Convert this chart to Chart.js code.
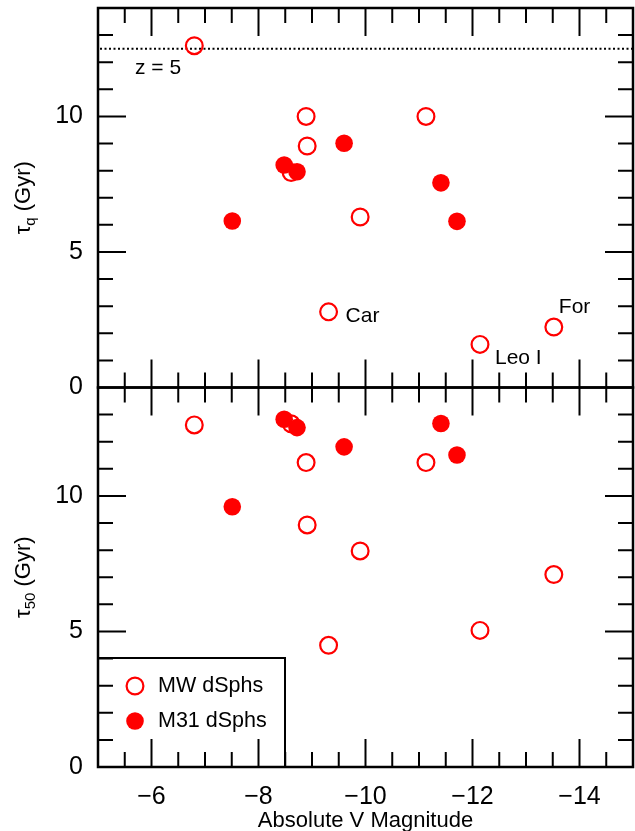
<!DOCTYPE html>
<html>
<head>
<meta charset="utf-8">
<title>dSph quenching times</title>
<script src="https://cdn.jsdelivr.net/npm/chart.js@4.4.1/dist/chart.umd.min.js"></script>
<style>
  html, body { margin: 0; padding: 0; background: #fff; }
  #myChart { display: block; }
</style>
</head>
<body>
<canvas id="myChart" width="635" height="831"></canvas>
<script>
'use strict';
// values
let mwMag=[-6.80,-8.89,-8.91,-8.61,-9.90,-11.13,-9.31,-12.14,-13.52];
let mwTauQ=[12.61,10.00,8.91,7.93,6.29,10.00,2.79,1.59,2.23];
let mwTau50=[12.62,11.23,8.93,12.66,7.97,11.23,4.49,5.04,7.10];
let mwNames=['','','','','','','Car','Leo I','For'];
let m31Mag=[-7.51,-8.48,-8.72,-9.60,-11.41,-11.71];
let m31TauQ=[6.14,8.21,7.96,9.01,7.55,6.13];
let m31Tau50=[9.60,12.83,12.52,11.81,12.67,11.51];
let zFiveAge=12.5;
let magRange=[-15,-5];
let tauRange=[0,14];
let magTicks=[-6,-8,-10,-12,-14];
let tauTicks=[0,5,10];

let fontFamily="'Liberation Sans', Arial, Helvetica, sans-serif";
Chart.defaults.font.family=fontFamily;
Chart.defaults.color='#000';

function toPoints(xs, ys){
  let pts=[];
  for(let i=0; i<xs.length; i++){
    pts.push({x: xs[i], y: ys[i]});
  }
  return pts;
}
function minusSign(v){
  return v<0 ? '\u2212'+(-v) : ''+v;
}
function noPadding(s){
  s.paddingTop=0;
  s.paddingBottom=0;
  s.paddingLeft=0;
  s.paddingRight=0;
}

let mwStyle={pointStyle:'circle', pointRadius:8.4, borderWidth:2.2, borderColor:'#ff0000', backgroundColor:'rgba(0,0,0,0)', order:2};
let m31Style={pointStyle:'circle', pointRadius:8.8, borderWidth:0, borderColor:'#ff0000', backgroundColor:'#ff0000', order:1};

// inward ticks + frame for both panels, legend box, labels
let framePlugin={
  id:'frame',
  afterDraw(chart){
    let ctx=chart.ctx;
    let x=chart.scales.x;
    let area=chart.chartArea;
    let panels=[chart.scales.yq, chart.scales.y50];
    ctx.save();
    ctx.strokeStyle='#000';
    panels.forEach(function(p){
      ctx.lineWidth=2;
      for(let v=-5.5; v>-15; v-=0.5){
        let px=x.getPixelForValue(v);
        let len=(v%2===0) ? 28 : 15;
        ctx.beginPath();
        ctx.moveTo(px, p.top); ctx.lineTo(px, p.top+len);
        ctx.moveTo(px, p.bottom); ctx.lineTo(px, p.bottom-len);
        ctx.stroke();
      }
      for(let v=1; v<14; v++){
        let py=p.getPixelForValue(v);
        let len=(v%5===0) ? 28 : 15;
        ctx.beginPath();
        ctx.moveTo(area.left, py); ctx.lineTo(area.left+len, py);
        ctx.moveTo(area.right, py); ctx.lineTo(area.right-len, py);
        ctx.stroke();
      }
      ctx.lineWidth=2.5;
      ctx.strokeRect(area.left, p.top, area.right-area.left, p.bottom-p.top);
    });

    // y titles with subscripts
    drawYTitle(ctx, chart.scales.yq, 'q');
    drawYTitle(ctx, chart.scales.y50, '50');

    // z = 5 label
    let yq=chart.scales.yq;
    ctx.fillStyle='#000';
    ctx.font='21px '+fontFamily;
    ctx.textAlign='left';
    ctx.textBaseline='middle';
    ctx.fillText('z = 5', area.left+37, yq.getPixelForValue(zFiveAge)+20);

    // galaxy names beside their points
    let offsets={'Car':[17,4], 'Leo I':[15,14], 'For':[5,-20]};
    let meta=chart.getDatasetMeta(0);
    mwNames.forEach(function(name, i){
      if(!name) return;
      let pt=meta.data[i];
      ctx.fillText(name, pt.x+offsets[name][0], pt.y+offsets[name][1]);
    });

    // legend box in the lower panel
    let lb=area.bottom, ll=area.left;
    ctx.lineWidth=2;
    ctx.strokeRect(ll, lb-109, 187, 109);
    ctx.beginPath();
    ctx.lineWidth=2.2;
    ctx.strokeStyle='#ff0000';
    ctx.arc(ll+37, lb-81, 8.4, 0, Math.PI*2);
    ctx.stroke();
    ctx.beginPath();
    ctx.fillStyle='#ff0000';
    ctx.arc(ll+37, lb-46, 8.8, 0, Math.PI*2);
    ctx.fill();
    ctx.fillStyle='#000';
    ctx.font='21.5px '+fontFamily;
    ctx.fillText(chart.data.datasets[0].label, ll+60, lb-81);
    ctx.fillText(chart.data.datasets[2].label, ll+60, lb-46);
    ctx.restore();
  }
};

function drawYTitle(ctx, scale, sub){
  let cy=(scale.top+scale.bottom)/2;
  ctx.save();
  ctx.translate(23, cy);
  ctx.rotate(-Math.PI/2);
  ctx.fillStyle='#000';
  ctx.textBaseline='alphabetic';
  ctx.textAlign='left';
  ctx.font='22px '+fontFamily;
  let w1=ctx.measureText('\u03c4').width;
  let w3=ctx.measureText(' (Gyr)').width;
  ctx.font='15px '+fontFamily;
  let w2=ctx.measureText(sub).width;
  let x0=-(w1+w2+w3)/2;
  ctx.font='22px '+fontFamily;
  ctx.fillText('\u03c4', x0, 7);
  ctx.font='15px '+fontFamily;
  ctx.fillText(sub, x0+w1, 12);
  ctx.font='22px '+fontFamily;
  ctx.fillText(' (Gyr)', x0+w1+w2, 7);
  ctx.restore();
}

function yAxis(){
  return {
    type:'linear', position:'left', stack:'panels', stackWeight:1,
    min:tauRange[0], max:tauRange[1],
    afterBuildTicks: function(s){ s.ticks=tauTicks.map(function(v){ return {value:v}; }); },
    afterFit: function(s){ s.width=98; noPadding(s); },
    grid:{display:false, drawTicks:false},
    border:{display:false},
    ticks:{font:{size:25}, color:'#000', padding:15, autoSkip:false}
  };
}

let ctx=document.getElementById('myChart').getContext('2d');
let myChart=new Chart(ctx, {
  type:'scatter',
  data:{
    datasets:[
      Object.assign({label:'MW dSphs', data:toPoints(mwMag, mwTauQ), yAxisID:'yq'}, mwStyle),
      Object.assign({label:'MW dSphs', data:toPoints(mwMag, mwTau50), yAxisID:'y50'}, mwStyle),
      Object.assign({label:'M31 dSphs', data:toPoints(m31Mag, m31TauQ), yAxisID:'yq'}, m31Style),
      Object.assign({label:'M31 dSphs', data:toPoints(m31Mag, m31Tau50), yAxisID:'y50'}, m31Style),
      {
        label:'z = 5', yAxisID:'yq', showLine:true, order:3,
        data:toPoints(magRange, [zFiveAge, zFiveAge]),
        borderColor:'#000', borderWidth:2, borderDash:[2,2.5], pointRadius:0
      }
    ]
  },
  options:{
    responsive:false,
    animation:false,
    events:[],
    layout:{autoPadding:false, padding:{top:8, right:2, left:0, bottom:0}},
    plugins:{legend:{display:false}, tooltip:{enabled:false}},
    scales:{
      x:{
        type:'linear', position:'bottom', reverse:true,
        min:magRange[0], max:magRange[1],
        afterBuildTicks: function(s){ s.ticks=magTicks.map(function(v){ return {value:v}; }); },
        afterFit: function(s){ s.height=64; noPadding(s); },
        grid:{display:false, drawTicks:false},
        border:{display:false},
        ticks:{font:{size:25}, color:'#000', padding:15, autoSkip:false, maxRotation:0, callback:minusSign},
        title:{display:true, text:'Absolute V Magnitude', color:'#000', font:{size:22, lineHeight:0.9}, padding:{top:0, bottom:0}}
      },
      // stacked panels: the later one is placed on top
      y50:yAxis(),
      yq:yAxis()
    }
  },
  plugins:[framePlugin]
});
</script>
</body>
</html>
